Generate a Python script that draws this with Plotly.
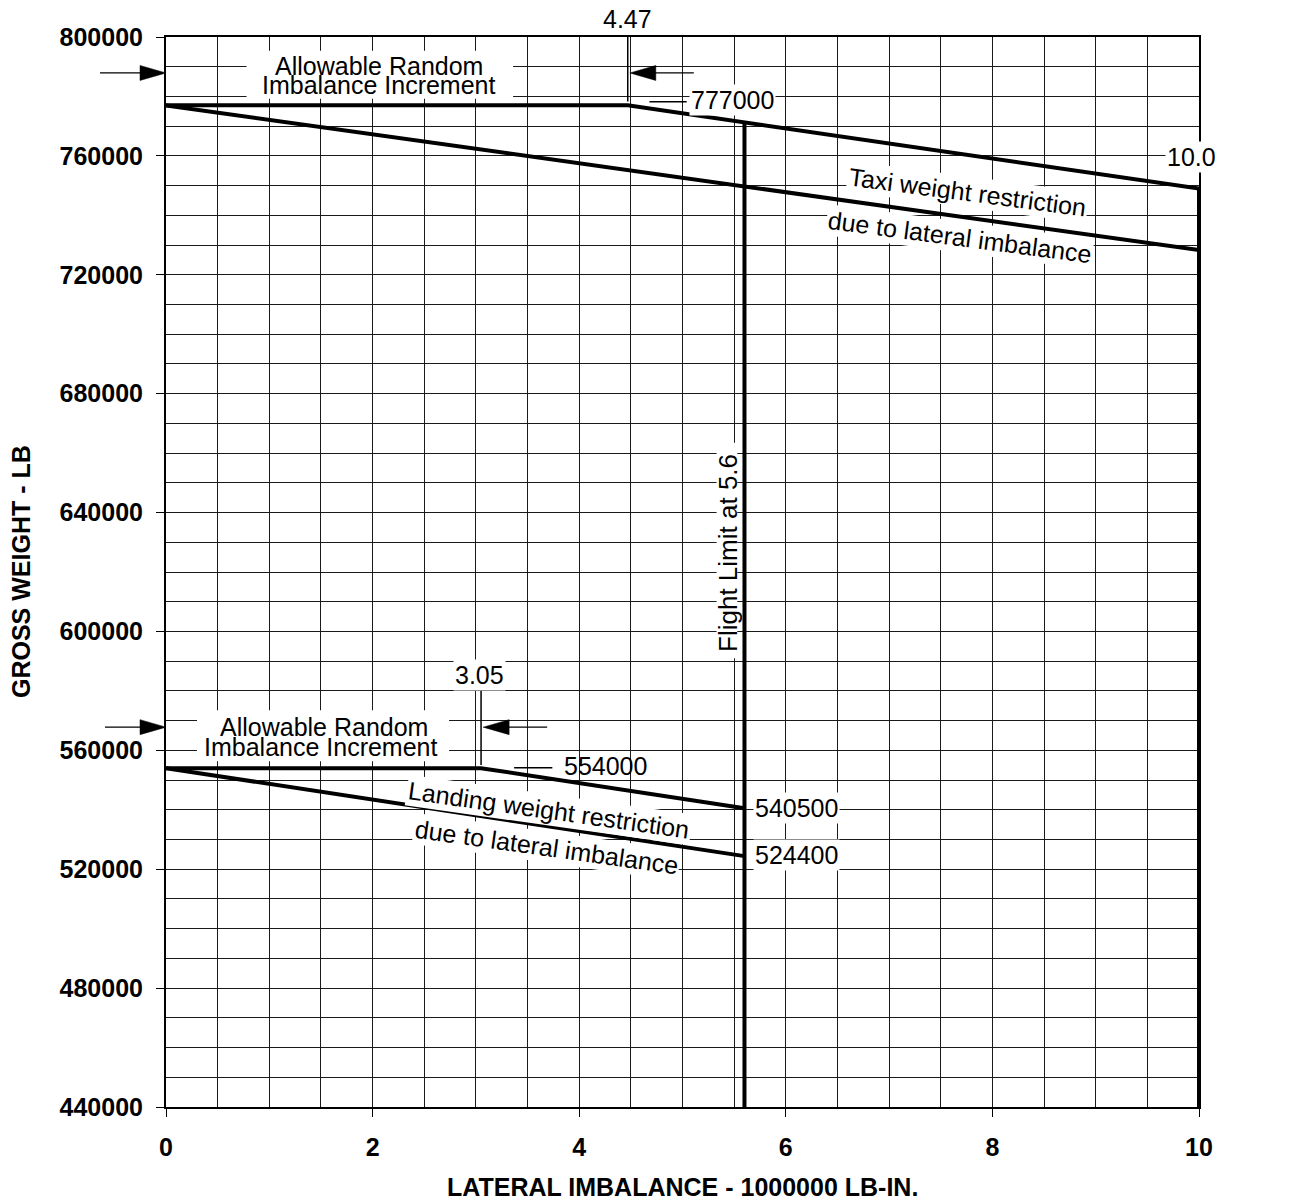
import numpy as np
import plotly.graph_objects as go

# ---- data ----
taxi_upper_x = [0, 4.47, 10]
taxi_upper_y = [777000, 777000, 749000]
taxi_lower_x = [0, 10]
taxi_lower_y = [777000, 728300]
landing_upper_x = [0, 3.05, 5.6]
landing_upper_y = [554000, 554000, 540500]
landing_lower_x = [0, 5.6]
landing_lower_y = [554000, 524400]
flight_limit_x = 5.6
taxi_limit_x = 10
x_min, x_max = 0, 10
y_min, y_max = 440000, 800000
x_ticks = [0, 2, 4, 6, 8, 10]
y_ticks = [440000, 480000, 520000, 560000, 600000, 640000, 680000, 720000, 760000, 800000]

flight_top = float(np.interp(flight_limit_x, taxi_upper_x, taxi_upper_y))

FONT = "Liberation Sans, Arial, sans-serif"
BLACK = "#000000"
LW = 4
FS = 25

# page has an 8px body margin; figure sized to fit the window
W, H = 1303, 1195
ML, MR, MT, MB = 158, 112, 29, 96
PW, PH = W - ML - MR, H - MT - MB

def px_x(x):  # data x -> paper
    return (x - x_min) / (x_max - x_min)

def px_y(y):  # data y -> paper
    return (y - y_min) / (y_max - y_min)

fig = go.Figure()

def line(xs, ys, w=LW):
    fig.add_trace(go.Scatter(x=xs, y=ys, mode="lines",
                             line=dict(color=BLACK, width=w),
                             hoverinfo="skip", showlegend=False))

line(taxi_upper_x, taxi_upper_y)
line(taxi_lower_x, taxi_lower_y)
line(landing_upper_x, landing_upper_y)
line(landing_lower_x, landing_lower_y)
line([flight_limit_x, flight_limit_x], [y_min, flight_top])
line([taxi_limit_x, taxi_limit_x], [y_min, taxi_upper_y[-1]])

ann = []
def text(x, y, t, size=FS, xanchor="center", yanchor="middle", angle=0, bg="white",
         xref="x", yref="y", bold=False):
    ann.append(dict(x=x, y=y, xref=xref, yref=yref, text=t, showarrow=False,
                    font=dict(family=FONT, size=size, color=BLACK,
                              weight="bold" if bold else "normal"),
                    xanchor=xanchor, yanchor=yanchor, textangle=angle,
                    bgcolor=bg, borderpad=1))

NOBG = "rgba(0,0,0,0)"
shapes = []

def white_box(x0, x1, y0, y1):
    shapes.append(dict(type="rect", xref="x", yref="y", x0=x0, x1=x1, y0=y0, y1=y1,
                       fillcolor="white", line=dict(width=0), layer="above"))

def arrow(x_head, tail_px, y, direction):
    """Arrow with filled triangular head, drawn in paper coords so it may sit outside the plot."""
    hx, hy = px_x(x_head), px_y(y)
    L, hh = 26 / PW, 7.5 / PH
    tx = hx - direction * tail_px / PW
    shapes.append(dict(type="line", xref="paper", yref="paper", x0=tx, x1=hx - direction * L * 0.5,
                       y0=hy, y1=hy, line=dict(color=BLACK, width=1.3), layer="above"))
    bx = hx - direction * L
    shapes.append(dict(type="path", xref="paper", yref="paper",
                       path=f"M {hx},{hy} L {bx},{hy + hh} L {bx},{hy - hh} Z",
                       fillcolor=BLACK, line=dict(color=BLACK, width=0.5), layer="above"))

# Taxi section
white_box(0.78, 3.36, 779200, 795400)
text(2.06, 790100, "Allowable Random", bg=NOBG)
text(2.06, 783700, "Imbalance Increment", bg=NOBG)
arrow(0, 66, 787900, +1)
arrow(4.49, 64, 787900, -1)
text(4.47, 1 + 18 / PH, "4.47", bg=NOBG, yref="paper")
text(5.06, 778900, "777000", xanchor="left")
text(9.93, 759500, "10.0")
text(10.1, 748000, "749000", xanchor="left", bg=NOBG)
text(10.1, 728300, "728300", xanchor="left", bg=NOBG)
text(7.76, 747700, "Taxi weight restriction", angle=7.5)
text(7.68, 732600, "due to lateral imbalance", angle=7.5)

# Flight limit (narrow white box so the thick 5.6 line stays continuous)
white_box(5.33, 5.53, 591000, 663500)
text(5.44, 626400, "Flight Limit at 5.6", size=26, angle=-90, bg=NOBG)

# Landing section
white_box(0.30, 2.74, 556300, 573500)
text(1.53, 567700, "Allowable Random", bg=NOBG)
text(1.50, 561200, "Imbalance Increment", bg=NOBG)
arrow(0, 61, 567800, +1)
arrow(3.07, 64, 567800, -1)
text(3.03, 585300, "3.05")
text(3.83, 554700, "554000", xanchor="left", bg=NOBG)
text(5.68, 540500, "540500", xanchor="left")
text(5.68, 524700, "524400", xanchor="left")
text(3.71, 539900, "Landing weight restriction", angle=8)
text(3.68, 527400, "due to lateral imbalance", angle=8)

# axis titles
text(0.5, -80 / PH, "LATERAL IMBALANCE - 1000000 LB-IN.", xref="paper", yref="paper",
     bold=True, bg=NOBG)
text(-(166 - 21) / PW, 0.5, "GROSS WEIGHT - LB", xref="paper", yref="paper",
     bold=True, bg=NOBG, angle=-90)

shapes += [
    # tick line at 4.47
    dict(type="line", xref="x", yref="y", x0=4.47, x1=4.47, y0=800600, y1=778300,
         line=dict(color=BLACK, width=1.5)),
    # leader for 777000
    dict(type="line", xref="x", yref="y", x0=4.68, x1=5.04, y0=778200, y1=778200,
         line=dict(color=BLACK, width=1.5)),
    # tick line at 3.05
    dict(type="line", xref="x", yref="y", x0=3.05, x1=3.05, y0=580300, y1=555100,
         line=dict(color=BLACK, width=1.5)),
    # leader for 554000
    dict(type="line", xref="x", yref="y", x0=3.37, x1=3.74, y0=554100, y1=554100,
         line=dict(color=BLACK, width=1.5)),
]

fig.update_layout(
    width=W, height=H,
    margin=dict(l=ML, r=MR, t=MT, b=MB, autoexpand=False),
    paper_bgcolor="white", plot_bgcolor="white",
    font=dict(family=FONT, color=BLACK),
    annotations=ann, shapes=shapes,
    xaxis=dict(range=[x_min, x_max], tickvals=x_ticks, ticktext=[str(v) for v in x_ticks],
               showgrid=True, gridcolor="#1a1a1a", gridwidth=1,
               minor=dict(dtick=0.5, showgrid=True, gridcolor="#1a1a1a", gridwidth=1),
               ticks="outside", ticklen=8, tickcolor=BLACK,
               showline=True, linecolor=BLACK, linewidth=2, mirror=True,
               zeroline=False, ticklabelstandoff=9, automargin=False,
               tickfont=dict(family=FONT, size=25, color=BLACK, weight="bold")),
    yaxis=dict(range=[y_min, y_max], tickvals=y_ticks, ticktext=[str(v) for v in y_ticks],
               showgrid=True, gridcolor="#1a1a1a", gridwidth=1,
               minor=dict(dtick=10000, tick0=0, showgrid=True, gridcolor="#1a1a1a", gridwidth=1),
               ticks="outside", ticklen=8, tickcolor=BLACK,
               showline=True, linecolor=BLACK, linewidth=2, mirror=True,
               zeroline=False, ticklabelstandoff=8, automargin=False,
               tickfont=dict(family=FONT, size=25, color=BLACK, weight="bold")),
)

fig.write_html("out.html")
